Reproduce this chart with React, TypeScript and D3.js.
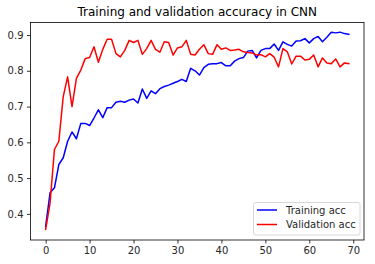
import React, { useEffect, useRef } from 'react';
import * as d3 from 'd3';

// accuracy per epoch
const trainAcc: number[] = [
  0.365, 0.459, 0.473, 0.538, 0.557, 0.603, 0.629, 0.610, 0.653, 0.653,
  0.647, 0.668, 0.691, 0.669, 0.697, 0.697, 0.712, 0.715, 0.712, 0.718,
  0.721, 0.710, 0.749, 0.723, 0.744, 0.736, 0.750, 0.756, 0.760, 0.765,
  0.770, 0.776, 0.770, 0.807, 0.800, 0.788, 0.809, 0.818, 0.820, 0.820,
  0.823, 0.814, 0.814, 0.827, 0.834, 0.837, 0.855, 0.857, 0.836, 0.857,
  0.862, 0.862, 0.875, 0.857, 0.881, 0.874, 0.869, 0.883, 0.884, 0.890,
  0.878, 0.890, 0.896, 0.881, 0.894, 0.908, 0.906, 0.908, 0.904, 0.902,
];
const valAcc: number[] = [
  0.357, 0.430, 0.580, 0.603, 0.728, 0.783, 0.700, 0.779, 0.802, 0.834,
  0.837, 0.867, 0.824, 0.860, 0.888, 0.888, 0.848, 0.839, 0.857, 0.885,
  0.879, 0.885, 0.846, 0.862, 0.885, 0.860, 0.852, 0.881, 0.879, 0.844,
  0.864, 0.867, 0.885, 0.846, 0.844, 0.860, 0.873, 0.848, 0.846, 0.873,
  0.860, 0.864, 0.857, 0.858, 0.860, 0.853, 0.851, 0.850, 0.844, 0.845,
  0.839, 0.848, 0.838, 0.811, 0.862, 0.853, 0.819, 0.841, 0.841, 0.830,
  0.832, 0.844, 0.811, 0.836, 0.822, 0.820, 0.833, 0.811, 0.822, 0.820,
];
const xTicks = [0, 10, 20, 30, 40, 50, 60, 70];
const yTicks = [0.4, 0.5, 0.6, 0.7, 0.8, 0.9];
const seriesNames = ['Training acc', 'Validation acc'];
const seriesColors = ['#0000ff', '#ff0000'];

const W = 375;
const H = 264;
const font = '"DejaVu Sans", sans-serif';

const App: React.FC = () => {
  const ref = useRef<SVGSVGElement | null>(null);

  useEffect(() => {
    const svg = d3.select(ref.current);
    svg.selectAll('*').remove();

    const left = 30.5, right = 364, top = 22.5, bottom = 240;

    const x = d3.scaleLinear().domain([-3.45, 72.45]).range([left, right]);
    const y = d3.scaleLinear().domain([0.327, 0.935]).range([bottom, top]);

    svg.append('rect').attr('width', W).attr('height', H).attr('fill', '#fff');

    // title
    svg.append('text')
      .attr('x', (left + right) / 2)
      .attr('y', 16)
      .attr('text-anchor', 'middle')
      .attr('font-family', font)
      .attr('font-size', 12)
      .attr('fill', '#000')
      .text('Training and validation accuracy in CNN');

    // lines
    const line = d3.line<number>()
      .x((_d, i) => x(i))
      .y(d => y(d));

    [trainAcc, valAcc].forEach((s, k) => {
      svg.append('path')
        .datum(s)
        .attr('d', line)
        .attr('fill', 'none')
        .attr('stroke', seriesColors[k])
        .attr('stroke-width', 1.5)
        .attr('stroke-linejoin', 'round')
        .attr('stroke-linecap', 'square');
    });

    // axes
    const xAxis = d3.axisBottom(x).tickValues(xTicks).tickSize(3.5).tickPadding(3.5)
      .tickFormat(d3.format('d'));
    const yAxis = d3.axisLeft(y).tickValues(yTicks).tickSize(3.5).tickPadding(3.5)
      .tickFormat(d3.format('.1f'));

    const gx = svg.append('g').attr('transform', `translate(0,${bottom})`).call(xAxis);
    const gy = svg.append('g').attr('transform', `translate(${left},0)`).call(yAxis);
    [gx, gy].forEach(g => {
      g.select('.domain').remove();
      g.selectAll('line').attr('stroke', '#000').attr('stroke-width', 0.8);
      g.selectAll('text').attr('font-family', font).attr('font-size', 10).attr('fill', '#262626');
    });

    // frame
    svg.append('rect')
      .attr('x', left).attr('y', top)
      .attr('width', right - left).attr('height', bottom - top)
      .attr('fill', 'none')
      .attr('stroke', '#000')
      .attr('stroke-width', 0.8);

    // legend
    const lg = svg.append('g').attr('transform', 'translate(253.5,202.5)');
    lg.append('rect')
      .attr('width', 106.5).attr('height', 32.5)
      .attr('rx', 2)
      .attr('fill', 'rgba(255,255,255,0.8)')
      .attr('stroke', '#cccccc')
      .attr('stroke-width', 0.8);
    seriesNames.forEach((name, k) => {
      const cy = 7.5 + k * 14.5;
      lg.append('line')
        .attr('x1', 3.5).attr('x2', 23.5)
        .attr('y1', cy).attr('y2', cy)
        .attr('stroke', seriesColors[k])
        .attr('stroke-width', 1.5);
      lg.append('text')
        .attr('x', 32.5).attr('y', cy + 3.6)
        .attr('font-family', font)
        .attr('font-size', 10)
        .attr('fill', '#262626')
        .text(name);
    });
  }, []);

  return (
    <svg ref={ref} width={W} height={H} style={{ position: 'absolute', left: 0, top: 0 }} />
  );
};

export default App;
